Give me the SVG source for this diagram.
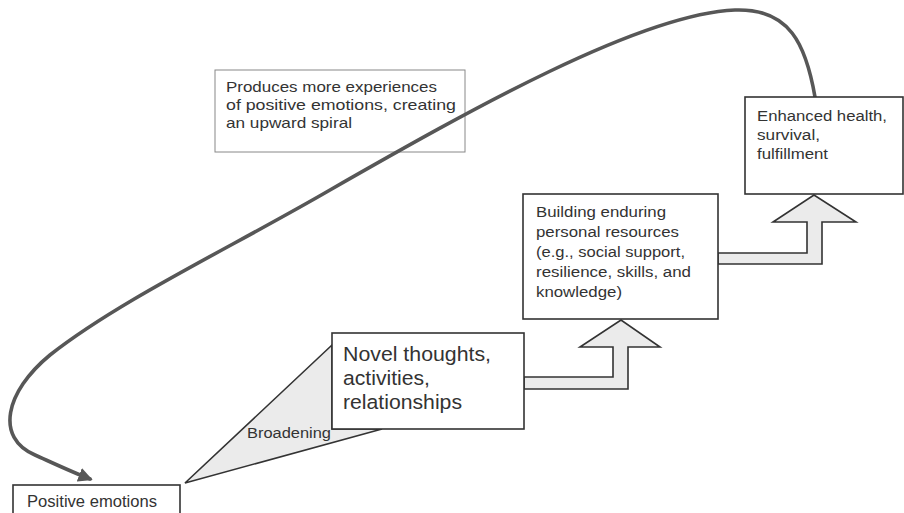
<svg xmlns="http://www.w3.org/2000/svg" width="904" height="513" viewBox="0 0 904 513">
<style>
.box{fill:#fff;stroke:#333;stroke-width:1.6}
.note{fill:#fff;stroke:#888;stroke-width:1}
.fat{fill:#ebebeb;stroke:#333;stroke-width:1.6;stroke-linejoin:miter}
.t{font-family:"Liberation Sans",Arial,sans-serif;fill:#333}
.spiral{fill:none;stroke:#575757;stroke-width:3.6;stroke-linecap:round}
</style>
<defs>
<marker id="ah" viewBox="0 0 10 10" refX="8" refY="5" markerWidth="4" markerHeight="4" orient="auto" markerUnits="strokeWidth">
<path d="M0,0 L10,5 L0,10 z" fill="#575757"/>
</marker>
</defs>
<rect width="904" height="513" fill="#fff"/>
<g id="note">
<rect class="note" x="215" y="70" width="250" height="82"/>
<text class="t" font-size="15"><tspan x="226" y="92" textLength="211" lengthAdjust="spacingAndGlyphs">Produces more experiences</tspan><tspan x="226" y="110" textLength="230" lengthAdjust="spacingAndGlyphs">of positive emotions, creating</tspan><tspan x="226" y="128" textLength="126" lengthAdjust="spacingAndGlyphs">an upward spiral</tspan></text>
</g>
<g id="connectors">
<polygon id="broadening-wedge" class="fat" points="185,483 332,345 332,429 382,429"/>
<polygon class="fat" points="524,377 613,377 613,347 580,347 621,320 660,347 628,347 628,389 524,389"/>
<polygon class="fat" points="718,253 807,253 807,222 773,222 814,195 856,222 822,222 822,264 718,264"/>
<path class="spiral" marker-end="url(#ah)" d="M815,97 C806,45 790,8 735,10 C640,14 470,110 330,190 C230,248 120,300 50,355 C5,392 -5,438 35,455 C55,464 72,472 90,479"/>
<text class="t" x="247" y="438" font-size="14" textLength="84" lengthAdjust="spacingAndGlyphs">Broadening</text>
</g>
<g id="positive-emotions">
<rect class="box" x="13" y="485" width="167" height="40"/>
<text class="t" x="27" y="507" font-size="16.5" textLength="130" lengthAdjust="spacingAndGlyphs">Positive emotions</text>
</g>
<g id="novel">
<rect class="box" x="332" y="333" width="192" height="96"/>
<text class="t" font-size="20.5"><tspan x="343" y="361" textLength="148" lengthAdjust="spacingAndGlyphs">Novel thoughts,</tspan><tspan x="343" y="385" textLength="87" lengthAdjust="spacingAndGlyphs">activities,</tspan><tspan x="343" y="409" textLength="119" lengthAdjust="spacingAndGlyphs">relationships</tspan></text>
</g>
<g id="building">
<rect class="box" x="523" y="194" width="195" height="125"/>
<text class="t" font-size="15.5"><tspan x="536" y="217" textLength="130" lengthAdjust="spacingAndGlyphs">Building enduring</tspan><tspan x="536" y="237" textLength="143" lengthAdjust="spacingAndGlyphs">personal resources</tspan><tspan x="536" y="257" textLength="149" lengthAdjust="spacingAndGlyphs">(e.g., social support,</tspan><tspan x="536" y="277" textLength="155" lengthAdjust="spacingAndGlyphs">resilience, skills, and</tspan><tspan x="536" y="297" textLength="86" lengthAdjust="spacingAndGlyphs">knowledge)</tspan></text>
</g>
<g id="enhanced">
<rect class="box" x="745" y="97" width="158" height="97"/>
<text class="t" font-size="15.5"><tspan x="757" y="121" textLength="130" lengthAdjust="spacingAndGlyphs">Enhanced health,</tspan><tspan x="757" y="140" textLength="63" lengthAdjust="spacingAndGlyphs">survival,</tspan><tspan x="757" y="159" textLength="71" lengthAdjust="spacingAndGlyphs">fulfillment</tspan></text>
</g>
</svg>
